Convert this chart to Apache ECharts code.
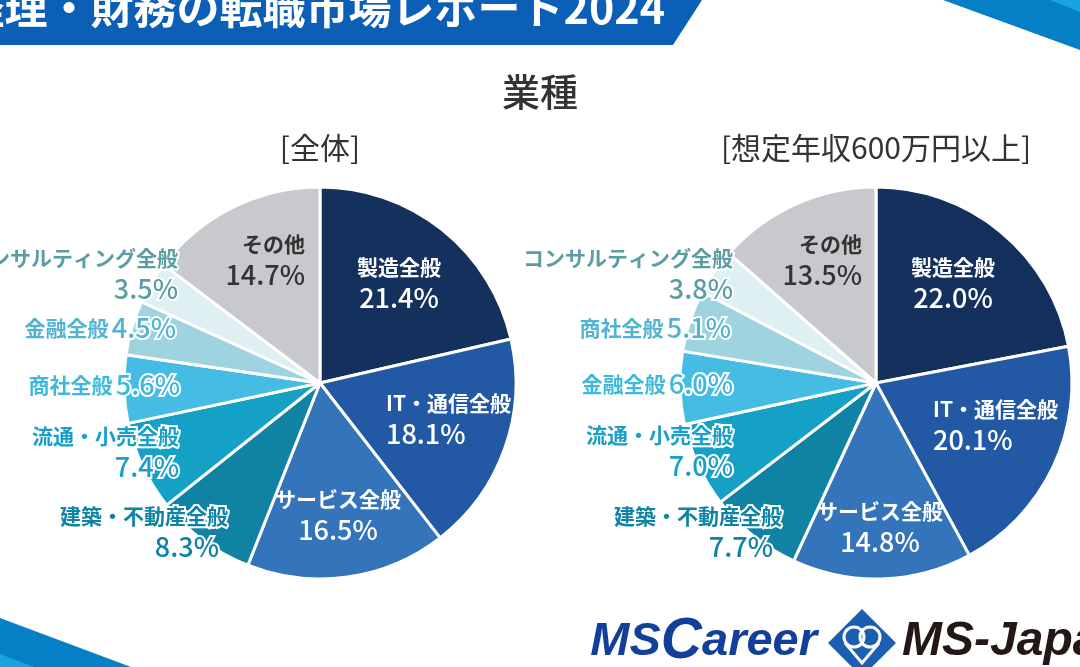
<!DOCTYPE html>
<html lang="ja">
<head>
<meta charset="UTF-8">
<title>業種</title>
<script src="https://cdn.jsdelivr.net/npm/echarts@6/dist/echarts.min.js"></script>
<style>
    html, body { margin: 0; padding: 0; background: #fff; }
    #main { width: 1080px; height: 667px; }
</style>
</head>
<body>
<div id="main"></div>
<script>
    // data (percent of postings by industry)
    var categoriesAll = ['製造全般', 'IT・通信全般', 'サービス全般', '建築・不動産全般', '流通・小売全般', '商社全般', '金融全般', 'コンサルティング全般', 'その他'];
    var valuesAll = [21.4, 18.1, 16.5, 8.3, 7.4, 5.6, 4.5, 3.5, 14.7];
    var categoriesHigh = ['製造全般', 'IT・通信全般', 'サービス全般', '建築・不動産全般', '流通・小売全般', '金融全般', '商社全般', 'コンサルティング全般', 'その他'];
    var valuesHigh = [22.0, 20.1, 14.8, 7.7, 7.0, 6.0, 5.1, 3.8, 13.5];
    var chartTitle = '業種';
    var subTitles = ['[全体]', '[想定年収600万円以上]'];

    // styling by slice position (largest first, "その他" last)
    var sliceColors = ['#14305c', '#2358a5', '#3474bb', '#1083a5', '#15a0c6', '#44bce3', '#9fd3e0', '#dff0f3', '#c8c9cc'];
    var textColors = ['#ffffff', '#ffffff', '#ffffff', '#0f83a6', '#199fc8', '#3fb8de', '#52b3d3', '#5a9da3', '#333333'];
    var outlined = [false, false, false, true, true, true, true, true, false];
    var oneLine = [false, false, false, false, false, true, true, false, false];

    // label anchors, offset from the pie centre: [dx, dy, align]
    var spotsAll = [[79, -100, 'center'], [66, 36, 'left'], [18, 132, 'center'], [-92, 149, 'right'], [-141, 69, 'right'],
        [-140, 2, 'right'], [-144, -55, 'right'], [-142, -109, 'right'], [-15, -123, 'right']];
    var spotsHigh = [[77, -100, 'center'], [57, 42, 'left'], [4, 144, 'center'], [-94, 149, 'right'], [-143, 68, 'right'],
        [-143, 1, 'right'], [-145, -55, 'right'], [-143, -109, 'right'], [-14, -123, 'right']];

    var centerAll = [320, 383];
    var centerHigh = [876, 383];
    var pieRadius = 196;
    var jp = '"Noto Sans CJK JP", "Noto Sans CJK SC", sans-serif';

    function buildData(names, values) {
        var out = [];
        for (var i = 0; i < names.length; i++) {
            var c = textColors[i];
            var bw = outlined[i] ? 4 : 0;
            out.push({
                name: names[i],
                value: values[i],
                itemStyle: { color: sliceColors[i] },
                label: {
                    rich: {
                        n: { fontFamily: jp, fontSize: 21, fontWeight: 'bold', color: c, lineHeight: 30,
                            textBorderColor: '#fff', textBorderWidth: bw },
                        v: { fontFamily: jp, fontSize: 27, fontWeight: 500, color: c, lineHeight: 32,
                            textBorderColor: '#fff', textBorderWidth: bw,
                            padding: i === 3 ? [0, 9, 0, 0] : 0 }
                    }
                }
            });
        }
        return out;
    }

    function labelText(p) {
        var pct = p.value.toFixed(1) + '%';
        if (oneLine[p.dataIndex]) {
            return '{n|' + p.name + '} {v|' + pct + '}';
        }
        return '{n|' + p.name + '}\n{v|' + pct + '}';
    }

    function makeLayout(center, spots) {
        return function (p) {
            var s = spots[p.dataIndex];
            return { x: center[0] + s[0], y: center[1] + s[1], align: s[2], verticalAlign: 'middle' };
        };
    }

    function pieSeries(center, names, values, spots) {
        return {
            type: 'pie',
            center: center,
            radius: pieRadius,
            startAngle: 90,
            clockwise: true,
            avoidLabelOverlap: false,
            silent: true,
            itemStyle: { borderColor: '#fff', borderWidth: 3 },
            label: { show: true, position: 'inside', formatter: labelText },
            labelLine: { show: false },
            labelLayout: makeLayout(center, spots),
            data: buildData(names, values)
        };
    }

    var chartDom = document.getElementById('main');
    var myChart = echarts.init(chartDom);

    var option = {
        animation: false,
        backgroundColor: '#fff',
        graphic: [
            // header band
            { type: 'polygon', shape: { points: [[0, 0], [702, 0], [673, 45], [0, 45]] }, style: { fill: '#0b5fb6' } },
            { type: 'text', x: 665, y: 8, style: { text: '経理・財務の転職市場レポート2024', fill: '#fff',
                fontFamily: jp, fontSize: 43, fontWeight: 'bold', align: 'right', verticalAlign: 'middle' } },
            { type: 'polygon', shape: { points: [[943, 0], [1080, 0], [1080, 50]] }, style: { fill: '#0580c7' } },
            { type: 'polygon', shape: { points: [[1050, 0], [1080, 0], [1080, 12]] }, style: { fill: '#1aa3df' } },
            { type: 'polygon', shape: { points: [[0, 618], [131, 667], [0, 667]] }, style: { fill: '#0580c7' } },
            { type: 'polygon', shape: { points: [[0, 654], [34, 667], [0, 667]] }, style: { fill: '#1aa3df' } },
            // titles
            { type: 'text', x: 540, y: 92, style: { text: chartTitle, fill: '#333', fontFamily: jp, fontSize: 38,
                fontWeight: 500, align: 'center', verticalAlign: 'middle' } },
            { type: 'text', x: centerAll[0], y: 148, style: { text: subTitles[0], fill: '#333', fontFamily: jp, fontSize: 30,
                align: 'center', verticalAlign: 'middle' } },
            { type: 'text', x: centerHigh[0], y: 148, style: { text: subTitles[1], fill: '#333', fontFamily: jp, fontSize: 30,
                align: 'center', verticalAlign: 'middle' } },
            // logos
            { type: 'text', x: 817, y: 642, style: { text: '{a|MS}{b|C}{a|areer}', align: 'right', verticalAlign: 'middle',
                rich: {
                    a: { fontFamily: 'Liberation Sans', fontSize: 47, fontWeight: 'bold', fontStyle: 'italic', fill: '#123f99', color: '#123f99' },
                    b: { fontFamily: 'Liberation Sans', fontSize: 57, fontWeight: 'bold', fontStyle: 'italic', fill: '#123f99', color: '#123f99' }
                } } },
            { type: 'polygon', shape: { points: [[862, 609], [896, 643], [862, 677], [828, 643]] }, style: { fill: '#1b5fb3' } },
            { type: 'circle', shape: { cx: 854, cy: 637, r: 10 }, style: { fill: 'none', stroke: '#fff', lineWidth: 3 } },
            { type: 'circle', shape: { cx: 870, cy: 637, r: 10 }, style: { fill: 'none', stroke: '#fff', lineWidth: 3 } },
            { type: 'polyline', shape: { points: [[845, 643], [862, 663], [879, 643]] }, style: { fill: 'none', stroke: '#fff', lineWidth: 3 } },
            { type: 'text', x: 902, y: 642, style: { text: 'MS-Japan', fill: '#231815', fontFamily: 'Liberation Sans',
                fontSize: 48, fontWeight: 'bold', fontStyle: 'italic', align: 'left', verticalAlign: 'middle' } }
        ],
        series: [
            pieSeries(centerAll, categoriesAll, valuesAll, spotsAll),
            pieSeries(centerHigh, categoriesHigh, valuesHigh, spotsHigh)
        ]
    };

    option && myChart.setOption(option);
</script>
</body>
</html>
